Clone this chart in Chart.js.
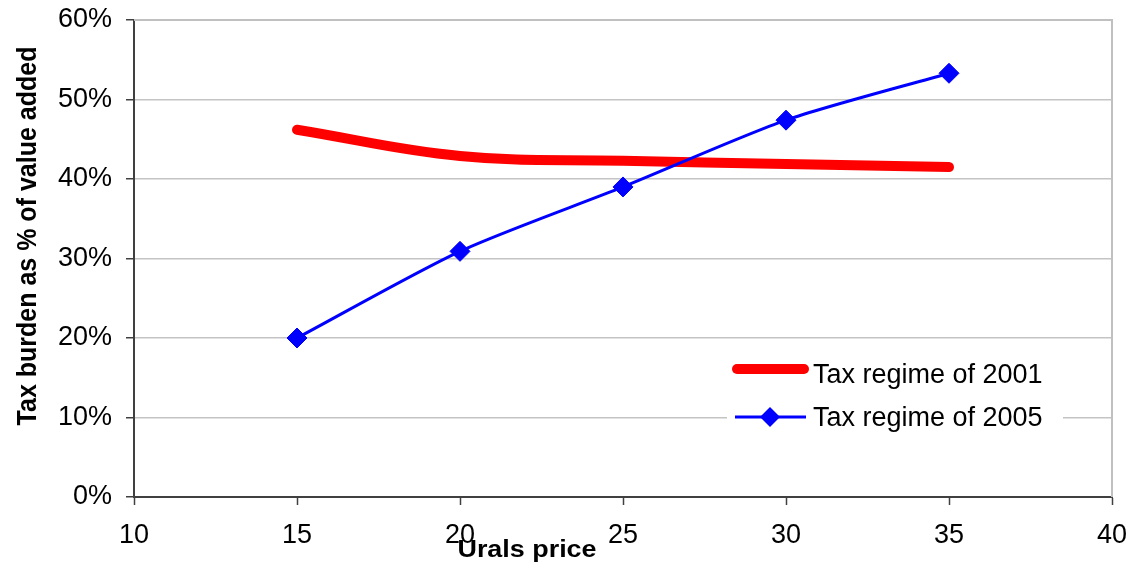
<!DOCTYPE html>
<html>
<head>
<meta charset="utf-8">
<script src="https://cdn.jsdelivr.net/npm/chart.js@4.4.1/dist/chart.umd.min.js"></script>
<style>
  html, body { margin: 0; padding: 0; background: #ffffff; }
  canvas { display: block; }
</style>
</head>
<body>
<canvas id="chart" width="1130" height="574"></canvas>
<script>
// Urals price (USD/bbl) on the x axis
const uralsPrice = [15, 20, 25, 30, 35];
// Tax burden, % of value added
const regime2001 = [46.2, 42.9, 42.3, 41.9, 41.5];
const regime2005 = [20.0, 30.9, 39.0, 47.4, 53.3];
const seriesNames = ['Tax regime of 2001', 'Tax regime of 2005'];
const xTitle = 'Urals price';
const yTitle = 'Tax burden as % of value added';

const FONT = "'Liberation Sans', Arial, sans-serif";
const RED = '#ff0000';
const BLUE = '#0000ff';

const toPoints = (xs, ys) => xs.map((x, i) => ({ x: x, y: ys[i] }));

// Axis titles, plot frame and the in-plot legend
const decorations = {
  id: 'decorations',
  beforeDatasetsDraw(chart) {
    const { ctx, chartArea: a } = chart;
    ctx.save();
    ctx.strokeStyle = '#c0c0c0';
    ctx.lineWidth = 2;
    ctx.beginPath();
    ctx.moveTo(a.left, a.top);
    ctx.lineTo(a.right, a.top);
    ctx.lineTo(a.right, a.bottom);
    ctx.stroke();
    ctx.restore();
  },
  afterDatasetsDraw(chart) {
    const { ctx } = chart;
    ctx.save();
    // legend box
    ctx.fillStyle = '#ffffff';
    ctx.fillRect(727, 350, 336, 92);

    ctx.lineCap = 'round';
    ctx.strokeStyle = RED;
    ctx.lineWidth = 10;
    ctx.beginPath();
    ctx.moveTo(737, 369);
    ctx.lineTo(804, 369);
    ctx.stroke();

    ctx.lineCap = 'butt';
    ctx.strokeStyle = BLUE;
    ctx.lineWidth = 3;
    ctx.beginPath();
    ctx.moveTo(735, 417);
    ctx.lineTo(806, 417);
    ctx.stroke();
    ctx.fillStyle = BLUE;
    ctx.beginPath();
    ctx.moveTo(760, 417);
    ctx.lineTo(770, 407);
    ctx.lineTo(780, 417);
    ctx.lineTo(770, 427);
    ctx.closePath();
    ctx.fill();

    ctx.fillStyle = '#000000';
    ctx.font = '27px ' + FONT;
    ctx.textAlign = 'left';
    ctx.textBaseline = 'alphabetic';
    ctx.fillText(seriesNames[0], 813, 383);
    ctx.fillText(seriesNames[1], 813, 426);

    // x axis title (slightly wide lettering)
    ctx.save();
    ctx.translate(527, 557);
    ctx.scale(1.17, 1);
    ctx.font = 'bold 23px ' + FONT;
    ctx.textAlign = 'center';
    ctx.fillText(xTitle, 0, 0);
    ctx.restore();

    // y axis title, rotated
    ctx.save();
    ctx.translate(36, 236);
    ctx.rotate(-Math.PI / 2);
    ctx.scale(1, 1.12);
    ctx.font = 'bold 25px ' + FONT;
    ctx.textAlign = 'center';
    ctx.textBaseline = 'alphabetic';
    ctx.fillText(yTitle, 0, 0);
    ctx.restore();
    ctx.restore();
  }
};

new Chart(document.getElementById('chart'), {
  type: 'scatter',
  data: {
    datasets: [
      {
        label: seriesNames[0],
        data: toPoints(uralsPrice, regime2001),
        showLine: true,
        borderColor: RED,
        backgroundColor: RED,
        borderWidth: 10,
        borderCapStyle: 'round',
        borderJoinStyle: 'round',
        tension: 0.4,
        pointRadius: 0,
        pointHoverRadius: 0,
        order: 2
      },
      {
        label: seriesNames[1],
        data: toPoints(uralsPrice, regime2005),
        showLine: true,
        borderColor: BLUE,
        backgroundColor: BLUE,
        borderWidth: 3,
        tension: 0.25,
        pointStyle: 'rectRot',
        pointRadius: 10,
        pointBorderWidth: 1,
        pointBackgroundColor: BLUE,
        pointBorderColor: BLUE,
        order: 1
      }
    ]
  },
  options: {
    responsive: false,
    animation: false,
    devicePixelRatio: 1,
    clip: false,
    layout: { padding: { left: 0, top: 20, right: 18, bottom: 0 } },
    plugins: {
      legend: { display: false },
      tooltip: { enabled: false },
      title: { display: false }
    },
    scales: {
      x: {
        type: 'linear',
        min: 10,
        max: 40,
        ticks: {
          stepSize: 5,
          color: '#000000',
          font: { family: FONT, size: 27 },
          padding: 14,
          maxRotation: 0
        },
        grid: {
          drawOnChartArea: false,
          drawTicks: true,
          tickLength: 8,
          tickColor: '#404040',
          tickWidth: 1.5
        },
        border: { display: true, color: '#404040', width: 2 },
        afterFit(scale) {
          scale.height = 77;
          scale.paddingLeft = 0;
          scale.paddingRight = 0;
        }
      },
      y: {
        type: 'linear',
        min: 0,
        max: 60,
        ticks: {
          stepSize: 10,
          color: '#000000',
          font: { family: FONT, size: 27 },
          padding: 14,
          callback: (v) => v + '%'
        },
        grid: {
          color: '#c4c4c4',
          lineWidth: 1.5,
          drawTicks: true,
          tickLength: 8,
          tickColor: '#404040',
          tickWidth: 1.5
        },
        border: { display: true, color: '#404040', width: 2 },
        afterFit(scale) {
          scale.width = 134;
          scale.paddingTop = 0;
          scale.paddingBottom = 0;
        }
      }
    }
  },
  plugins: [decorations]
});
</script>
</body>
</html>
